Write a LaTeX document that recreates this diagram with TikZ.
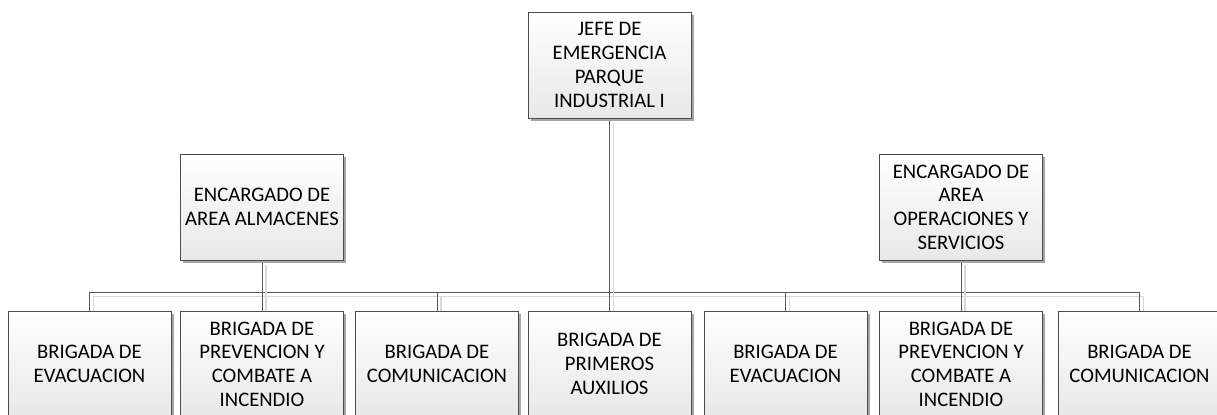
\documentclass[tikz,border=0pt]{standalone}
\usepackage{fontspec}
\setmainfont{Carlito}
\usetikzlibrary{shadows}
\pgfdeclarelayer{background}
\pgfsetlayers{background,main}

\begin{document}
\begin{tikzpicture}[
    x=0.75pt, y=-0.75pt,
    unitbox/.style={rectangle, draw=black!70, align=center,
      minimum width=122pt, minimum height=79.5pt, inner sep=2pt,
      top color=white, bottom color=black!9,
      drop shadow={shadow xshift=2pt, shadow yshift=-2pt, fill=black!35, opacity=1},
      font=\fontsize{15.5}{17.8}\selectfont},
    link/.style={draw=black!65, line width=0.6pt,
      preaction={draw=black!15, line width=0.9pt,
        transform canvas={xshift=3pt, yshift=-3.5pt}}}
  ]
  \useasboundingbox (0,0) rectangle (1217,414);
  \clip (0,0) rectangle (1217,414);

  % jefe y encargados
  \node[unitbox] (jefe) at (609.5,65) {JEFE DE\\EMERGENCIA\\PARQUE\\INDUSTRIAL I};
  \node[unitbox] (almacenes) at (262,207) {ENCARGADO DE\\AREA ALMACENES};
  \node[unitbox] (operaciones) at (961,207) {ENCARGADO DE\\AREA\\OPERACIONES Y\\SERVICIOS};

  % brigadas
  \node[unitbox] (evac1) at (89.5,364) {BRIGADA DE\\EVACUACION};
  \node[unitbox] (prev1) at (262,364) {BRIGADA DE\\PREVENCION Y\\COMBATE A\\INCENDIO};
  \node[unitbox] (comun1) at (437,364) {BRIGADA DE\\COMUNICACION};
  \node[unitbox] (auxilios) at (609.5,364) {BRIGADA DE\\PRIMEROS\\AUXILIOS};
  \node[unitbox] (evac2) at (785.5,364) {BRIGADA DE\\EVACUACION};
  \node[unitbox] (prev2) at (961,364) {BRIGADA DE\\PREVENCION Y\\COMBATE A\\INCENDIO};
  \node[unitbox] (comun2) at (1139.5,364) {BRIGADA DE\\COMUNICACION};

  \begin{pgfonlayer}{background}
    \coordinate (bus) at (0,292);
    \draw[link] (evac1.north) -- (evac1.north |- bus) -- (comun2.north |- bus) -- (comun2.north);
    \draw[link] (jefe.south) -- (auxilios.north);
    \draw[link] (almacenes.south) -- (prev1.north);
    \draw[link] (operaciones.south) -- (prev2.north);
    \draw[link] (comun1.north) -- (comun1.north |- bus);
    \draw[link] (evac2.north) -- (evac2.north |- bus);
  \end{pgfonlayer}
\end{tikzpicture}
\end{document}
